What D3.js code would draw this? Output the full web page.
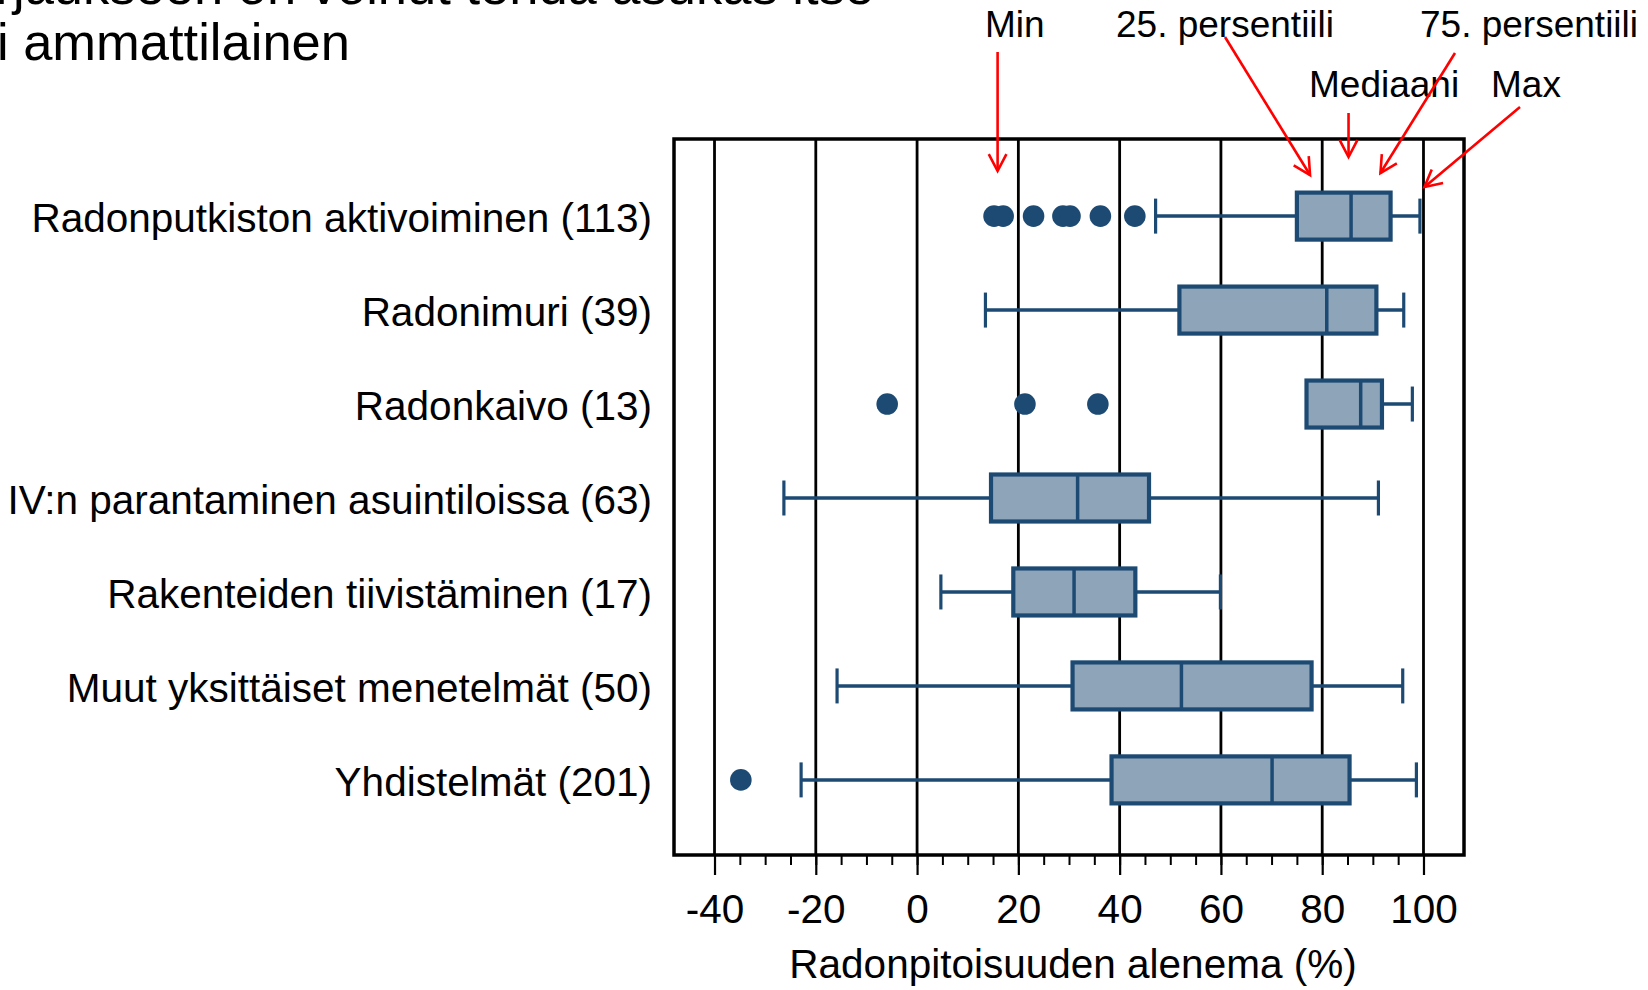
<!DOCTYPE html>
<html>
<head>
<meta charset="utf-8">
<script src="https://cdn.jsdelivr.net/npm/d3@7"></script>
<style>
  html, body { margin: 0; padding: 0; background: #fff; }
  svg { display: block; font-family: "Liberation Sans", Arial, sans-serif; }
</style>
</head>
<body>
<svg class="chart" width="1648" height="990"></svg>
<script>
// data (% reduction of radon concentration)
const methods = [
  "Radonputkiston aktivoiminen (113)",
  "Radonimuri (39)",
  "Radonkaivo (13)",
  "IV:n parantaminen asuintiloissa (63)",
  "Rakenteiden tiivistäminen (17)",
  "Muut yksittäiset menetelmät (50)",
  "Yhdistelmät (201)"
];
const whiskerLow = [47.1, 13.5, 76.9, -26.3, 4.7, -15.8, -22.9];
const q1 = [75.0, 51.8, 76.9, 14.6, 19.0, 30.7, 38.4];
const medians = [85.7, 80.9, 87.6, 31.7, 31.0, 52.2, 70.1];
const q3 = [93.5, 90.7, 91.8, 45.8, 43.1, 77.9, 85.4];
const whiskerHigh = [99.3, 96.1, 97.8, 91.1, 59.9, 95.9, 98.6];
const outliers = [
  [15.2, 17.0, 23.0, 28.8, 30.2, 36.2, 43.0],
  [],
  [-5.9, 21.3, 35.7],
  [],
  [],
  [],
  [-34.8]
];
const majorTicks = [-40, -20, 0, 20, 40, 60, 80, 100];
const axisTitle = "Radonpitoisuuden alenema (%)";
const titleLines = ["Kohteet, joiden korjaukseen on voinut tehdä asukas itse", "tai ammattilainen"];

// annotation labels and the value each arrow points at
const legendLabels = ["Min", "25. persentiili", "Mediaani", "75. persentiili", "Max"];
const legendValues = [15.9, 77.6, 85.2, 91.5, 100.2];

// config
const frame = { left: 674, right: 1464, top: 139, bottom: 855 };
const boxColor = "#1d4a73";
const boxFill = "#8ea4b9";
const boxHeight = 47;
const capHeight = 35;
const fontSize = 40.5;

const svg = d3.select("svg.chart");

const x = d3.scaleLinear()
  .domain([-48, 108])
  .range([frame.left, frame.right]);

const y = d3.scalePoint()
  .domain(methods)
  .range([frame.top, frame.bottom])
  .padding(0.81);

const rows = methods.map((name, i) => ({
  name,
  low: whiskerLow[i],
  q1: q1[i],
  median: medians[i],
  q3: q3[i],
  high: whiskerHigh[i],
  outliers: outliers[i]
}));

// title (partly outside the picture, as in the slide)
svg.append("g")
  .attr("class", "title")
  .selectAll("text")
  .data(titleLines)
  .join("text")
  .attr("x", (d, i) => i === 0 ? 874 : 350)
  .attr("y", (d, i) => i === 0 ? 4 : 60)
  .attr("text-anchor", "end")
  .attr("font-size", 52.5)
  .attr("fill", "#000")
  .text(d => d);

// gridlines
svg.append("g")
  .attr("class", "grid")
  .selectAll("line")
  .data(majorTicks)
  .join("line")
  .attr("x1", d => x(d)).attr("x2", d => x(d))
  .attr("y1", frame.top).attr("y2", frame.bottom)
  .attr("stroke", "#000")
  .attr("stroke-width", 2.8);

// axis: minor ticks, then major ticks with labels
const minorAxis = d3.axisBottom(x)
  .tickValues(d3.range(-40, 101, 5))
  .tickSize(10)
  .tickFormat("");

const majorAxis = d3.axisBottom(x)
  .tickValues(majorTicks)
  .tickSize(20)
  .tickPadding(19)
  .tickFormat(d3.format("d"));

svg.append("g")
  .attr("transform", `translate(0, ${frame.bottom})`)
  .call(minorAxis)
  .call(g => g.select(".domain").remove())
  .call(g => g.selectAll(".tick line").attr("stroke", "#000").attr("stroke-width", 2));

svg.append("g")
  .attr("transform", `translate(0, ${frame.bottom})`)
  .call(majorAxis)
  .call(g => g.select(".domain").remove())
  .call(g => g.selectAll(".tick line").attr("stroke", "#000").attr("stroke-width", 2.2))
  .call(g => g.selectAll(".tick text")
    .attr("font-size", fontSize)
    .attr("font-family", "Liberation Sans, Arial, sans-serif")
    .attr("fill", "#000")
    .text(d => d < 0 ? "-" + Math.abs(d) : d));

// frame
svg.append("rect")
  .attr("x", frame.left)
  .attr("y", frame.top)
  .attr("width", frame.right - frame.left)
  .attr("height", frame.bottom - frame.top)
  .attr("fill", "none")
  .attr("stroke", "#000")
  .attr("stroke-width", 3.5);

// axis title
svg.append("text")
  .attr("x", (frame.left + frame.right) / 2 + 4)
  .attr("y", 978)
  .attr("text-anchor", "middle")
  .attr("font-size", fontSize)
  .attr("fill", "#000")
  .text(axisTitle);

// category labels
svg.append("g")
  .attr("class", "labels")
  .selectAll("text")
  .data(methods)
  .join("text")
  .attr("x", 652)
  .attr("y", d => y(d) + 17)
  .attr("text-anchor", "end")
  .attr("font-size", fontSize)
  .attr("fill", "#000")
  .text(d => d);

// boxes
const box = svg.append("g")
  .attr("class", "boxes")
  .selectAll("g.box")
  .data(rows)
  .join("g")
  .attr("class", "box")
  .attr("transform", d => `translate(0, ${y(d.name) + 1})`);

// whisker line
box.append("line")
  .attr("x1", d => x(d.low)).attr("x2", d => x(d.high))
  .attr("y1", 0).attr("y2", 0)
  .attr("stroke", boxColor)
  .attr("stroke-width", 3.5);

// caps
box.selectAll("line.cap")
  .data(d => [d.low, d.high].filter(v => v !== d.q1 && v !== d.q3))
  .join("line")
  .attr("class", "cap")
  .attr("x1", v => x(v)).attr("x2", v => x(v))
  .attr("y1", -capHeight / 2).attr("y2", capHeight / 2)
  .attr("stroke", boxColor)
  .attr("stroke-width", 3.2);

box.append("rect")
  .attr("x", d => x(d.q1))
  .attr("y", -boxHeight / 2)
  .attr("width", d => x(d.q3) - x(d.q1))
  .attr("height", boxHeight)
  .attr("fill", boxFill)
  .attr("stroke", boxColor)
  .attr("stroke-width", 4.2);

box.append("line")
  .attr("x1", d => x(d.median)).attr("x2", d => x(d.median))
  .attr("y1", -boxHeight / 2).attr("y2", boxHeight / 2)
  .attr("stroke", boxColor)
  .attr("stroke-width", 3.5);

// outliers
box.selectAll("circle")
  .data(d => d.outliers)
  .join("circle")
  .attr("cx", v => x(v))
  .attr("cy", 0)
  .attr("r", 10.8)
  .attr("fill", boxColor);

// annotations (red arrows)
const notes = [
  { label: legendLabels[0], tx: 985, ty: 37, from: [0, 52], to: [legendValues[0], 171] },
  { label: legendLabels[1], tx: 1116, ty: 37, from: [1225, 37], to: [legendValues[1], 175] },
  { label: legendLabels[2], tx: 1309, ty: 97, from: [0, 113], to: [legendValues[2], 157] },
  { label: legendLabels[3], tx: 1420, ty: 37, from: [1455, 53], to: [legendValues[3], 173] },
  { label: legendLabels[4], tx: 1491, ty: 97, from: [1520, 107], to: [legendValues[4], 187] }
];

const ann = svg.append("g").attr("class", "annotations");

ann.selectAll("text")
  .data(notes)
  .join("text")
  .attr("x", d => d.tx)
  .attr("y", d => d.ty)
  .attr("font-size", 37)
  .attr("fill", "#000")
  .text(d => d.label);

notes.forEach(n => {
  const x2 = x(n.to[0]);
  const y2 = n.to[1];
  const x1 = n.from[0] === 0 ? x2 : n.from[0];
  const y1 = n.from[1];
  const ang = Math.atan2(y2 - y1, x2 - x1);
  const len = 19, spread = Math.PI / 6.5;
  const g = ann.append("g")
    .attr("stroke", "#ff0000")
    .attr("stroke-width", 2.6)
    .attr("fill", "none");
  g.append("line").attr("x1", x1).attr("y1", y1).attr("x2", x2).attr("y2", y2);
  g.append("path")
    .attr("d", d3.line()([
      [x2 - len * Math.cos(ang - spread), y2 - len * Math.sin(ang - spread)],
      [x2, y2],
      [x2 - len * Math.cos(ang + spread), y2 - len * Math.sin(ang + spread)]
    ]));
});
</script>
</body>
</html>
